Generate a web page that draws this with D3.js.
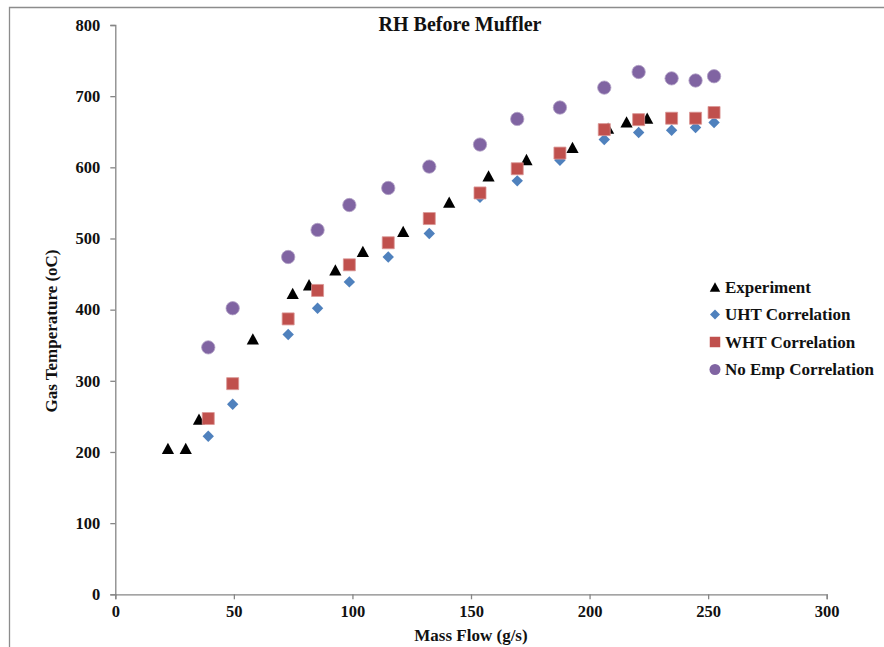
<!DOCTYPE html>
<html>
<head>
    <meta charset="utf-8"/>
    <title>RH Before Muffler</title>
    <style>
        body {
            margin: 0;
            background: #fff;
        }
        svg {
            display: block;
            font-family: 'Liberation Serif', 'Times New Roman', serif;
            font-weight: bold;
        }
        .axis path, .axis line {
            stroke: #868686;
            stroke-width: 1.3px;
        }
        .axis text {
            font-family: 'Liberation Serif', 'Times New Roman', serif;
            font-size: 16.5px;
            font-weight: bold;
            fill: #111;
        }
    </style>
    <script src="https://cdnjs.cloudflare.com/ajax/libs/d3/7.8.5/d3.min.js"></script>
</head>
<body>
<svg id="chart" width="884" height="647"></svg>
<script>

// values
const expFlow = [22.2, 29.7, 35.3, 58.0, 74.8, 81.7, 92.8, 104.4, 121.4, 140.8, 157.4, 173.4, 192.8, 207.8, 215.6, 224.3];
const expTemp = [205, 205, 246, 359, 423, 435, 456, 482, 510, 551, 588, 611, 628, 655, 664, 669];

const corrFlow = [39.2, 49.5, 72.9, 85.3, 98.7, 115.1, 132.4, 153.8, 169.5, 187.5, 206.2, 220.7, 234.6, 244.7, 252.5];
const uhtTemp = [222, 267, 365, 402, 439, 474, 507, 558, 581, 610, 639, 649, 652, 656, 663];
const whtTemp = [247, 296, 387, 427, 463, 494, 528, 564, 598, 620, 653, 667, 669, 669, 677];
const noEmpTemp = [347, 402, 474, 512, 547, 571, 601, 632, 668, 684, 712, 734, 725, 722, 728];

const xTicks = [0, 50, 100, 150, 200, 250, 300];
const yTicks = [0, 100, 200, 300, 400, 500, 600, 700, 800];

const seriesNames = ['Experiment', 'UHT Correlation', 'WHT Correlation', 'No Emp Correlation'];

// excel-like marker shapes, centred on their bounding box
const triangleUp = {
    draw(ctx, size) {
        const w = Math.sqrt(size);
        ctx.moveTo(0, -w * 0.46);
        ctx.lineTo(w * 0.5, w * 0.46);
        ctx.lineTo(-w * 0.5, w * 0.46);
        ctx.closePath();
    }
};
const diamond = {
    draw(ctx, size) {
        const r = Math.sqrt(size) / 2;
        ctx.moveTo(0, -r);
        ctx.lineTo(r, 0);
        ctx.lineTo(0, r);
        ctx.lineTo(-r, 0);
        ctx.closePath();
    }
};

const series = [
    {name: seriesNames[0], xs: expFlow, ys: expTemp, type: triangleUp, size: 150, legendSize: 110, fill: '#000000', stroke: 'none'},
    {name: seriesNames[1], xs: corrFlow, ys: uhtTemp, type: diamond, size: 130, legendSize: 100, fill: '#4F81BD', stroke: 'none'},
    {name: seriesNames[2], xs: corrFlow, ys: whtTemp, type: d3.symbolSquare, size: 144, legendSize: 110, fill: '#C0504D', stroke: '#D99694'},
    {name: seriesNames[3], xs: corrFlow, ys: noEmpTemp, type: d3.symbolCircle, size: 140, legendSize: 95, fill: '#8064A2', stroke: '#B3A2C7'}
];

const svg = d3.select('#chart');
const margin = {left: 115.3, right: 826.7, top: 25, bottom: 594.3};

const x = d3.scaleLinear().domain([0, 300]).range([margin.left, margin.right]);
const y = d3.scaleLinear().domain([0, 800]).range([margin.bottom, margin.top]);

// outer frame (only top and left edges show in the picture)
svg.append('path')
    .attr('d', 'M9.5,647 V7.5 H884')
    .attr('fill', 'none')
    .attr('stroke', '#8c8c8c')
    .attr('stroke-width', 1.3);

svg.append('g')
    .attr('class', 'axis')
    .attr('transform', `translate(0,${margin.bottom})`)
    .call(d3.axisBottom(x).tickValues(xTicks).tickSize(5).tickSizeOuter(5).tickPadding(6));

svg.append('g')
    .attr('class', 'axis')
    .attr('transform', `translate(${margin.left},0)`)
    .call(d3.axisLeft(y).tickValues(yTicks).tickSize(5).tickSizeOuter(5).tickPadding(10));

svg.selectAll('.axis .domain').attr('stroke', '#868686');

// points
series.forEach(s => {
    svg.append('g')
        .selectAll('path')
        .data(s.xs.map((v, i) => [v, s.ys[i]]))
        .enter().append('path')
        .attr('transform', d => `translate(${x(d[0])},${y(d[1])})`)
        .attr('d', d3.symbol().type(s.type).size(s.size))
        .attr('fill', s.fill)
        .attr('stroke', s.stroke)
        .attr('stroke-width', 0.8);
});

// title
svg.append('text')
    .attr('x', 460)
    .attr('y', 30.5)
    .attr('text-anchor', 'middle')
    .style('font-size', '20px')
    .style('fill', '#111')
    .text('RH Before Muffler');

// axis titles
svg.append('text')
    .attr('x', x(150))
    .attr('y', 641)
    .attr('text-anchor', 'middle')
    .style('font-size', '17px')
    .style('fill', '#111')
    .text('Mass Flow (g/s)');

svg.append('text')
    .attr('transform', 'translate(57,331) rotate(-90)')
    .attr('text-anchor', 'middle')
    .style('font-size', '17px')
    .style('fill', '#111')
    .text('Gas Temperature (oC)');

// legend
const legend = svg.append('g').attr('transform', 'translate(715,287)');
const rows = legend.selectAll('g')
    .data(series)
    .enter().append('g')
    .attr('transform', (d, i) => `translate(0,${i * 27.5})`);

rows.append('path')
    .attr('d', d => d3.symbol().type(d.type).size(d.legendSize)())
    .attr('fill', d => d.fill);

rows.append('text')
    .attr('x', 10)
    .attr('y', 5.5)
    .style('font-size', '17px')
    .style('fill', '#111')
    .text(d => d.name);

</script>
</body>
</html>
